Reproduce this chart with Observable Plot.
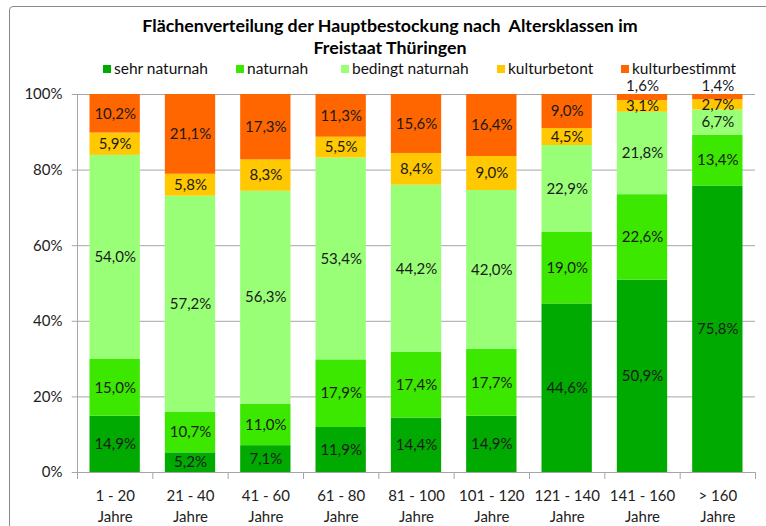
<!DOCTYPE html>
<html><head><meta charset="utf-8">
<script src="https://cdn.jsdelivr.net/npm/d3@7"></script>
<script src="https://cdn.jsdelivr.net/npm/@observablehq/plot@0.6"></script>
<style>
body{margin:0;background:#fff;font-family:Lato,"Open Sans",sans-serif;}
#wrap{position:relative;width:766px;height:526px;overflow:hidden;background:#fff;}
#frame{position:absolute;left:9px;top:6px;width:800px;height:560px;border:1px solid #8a8a8a;border-radius:4px;}
.title{position:absolute;left:0;width:780px;text-align:center;font-weight:bold;font-size:17.8px;line-height:22px;color:#000;white-space:pre;}
#legend{position:absolute;top:61px;left:0;width:766px;height:15px;font-size:15.5px;line-height:15px;color:#111;z-index:2;}
.item{position:absolute;top:0;white-space:nowrap;}
.sw{display:inline-block;width:8px;height:8px;margin-right:3px;vertical-align:1px;}
#chart{position:absolute;left:0;top:66px;}
</style></head>
<body>
<div id="wrap">
  <div id="frame"></div>
  <div class="title" style="top:14px">Flächenverteilung der Hauptbestockung nach  Altersklassen im</div>
  <div class="title" style="top:36px">Freistaat Thüringen</div>
  <div id="legend"></div>
  <div id="chart"></div>
</div>
<script>
const categories = ["1 - 20","21 - 40","41 - 60","61 - 80","81 - 100","101 - 120","121 - 140","141 - 160","> 160"];
const series = ["sehr naturnah","naturnah","bedingt naturnah","kulturbetont","kulturbestimmt"];
const sehrNaturnah    = [14.9, 5.2, 7.1, 11.9, 14.4, 14.9, 44.6, 50.9, 75.8];
const naturnah        = [15.0, 10.7, 11.0, 17.9, 17.4, 17.7, 19.0, 22.6, 13.4];
const bedingtNaturnah = [54.0, 57.2, 56.3, 53.4, 44.2, 42.0, 22.9, 21.8, 6.7];
const kulturbetont    = [5.9, 5.8, 8.3, 5.5, 8.4, 9.0, 4.5, 3.1, 2.7];
const kulturbestimmt  = [10.2, 21.1, 17.3, 11.3, 15.6, 16.4, 9.0, 1.6, 1.4];
const colors = ["#00AA00","#3CE800","#99FF77","#FFC800","#FF6600"];
const yTicks = [0, 20, 40, 60, 80, 100];

const seriesValues = [sehrNaturnah, naturnah, bedingtNaturnah, kulturbetont, kulturbestimmt];
const rows = [];
categories.forEach((c, i) => {
  let acc = 0;
  series.forEach((s, k) => {
    const v = seriesValues[k][i];
    rows.push({i, category: c, series: s, value: v, y1: acc, y2: acc + v});
    acc += v;
  });
});
const fmt = v => v.toFixed(1).replace(".", ",") + "%";

// legend
const legendX = [103, 236, 341, 497, 621];
const legend = document.getElementById("legend");
series.forEach((s, k) => {
  const it = document.createElement("div");
  it.className = "item";
  it.style.left = legendX[k] + "px";
  it.innerHTML = `<span class="sw" style="background:${colors[k]}"></span>${s}`;
  legend.appendChild(it);
});

const chart = Plot.plot({
  width: 766, height: 460,
  marginLeft: 77, marginRight: 11, marginTop: 28, marginBottom: 54,
  x: {domain: [0, categories.length]},
  y: {domain: [0, 100]},
  color: {domain: series, range: colors},
  style: {fontFamily: "Lato, 'Open Sans', sans-serif", fontSize: "15px", color: "#222", background: "transparent"},
  marks: [
    Plot.ruleY(yTicks, {x1: -0.07, x2: categories.length, stroke: "#a6a6a6", strokeOpacity: 1}),
    Plot.rectY(rows, {x1: "i", x2: d => d.i + 1, y1: "y1", y2: "y2", fill: "series", insetLeft: 12.5, insetRight: 12.5}),
    Plot.text(rows.filter(d => d.value >= 2), {x: d => d.i + 0.5, y: d => (d.y1 + d.y2) / 2, text: d => fmt(d.value), fill: "#1a1a1a", fontSize: 15}),
    Plot.text(rows.filter(d => d.value < 2), {x: d => d.i + 0.5, y: 100, dy: -8, text: d => fmt(d.value), fill: "#1a1a1a", fontSize: 15}),
    Plot.ruleX([0], {y1: 0, y2: 100, stroke: "#a6a6a6"}),
    Plot.axisY({ticks: yTicks, tickFormat: d => d + "%", tickSize: 0, tickPadding: 15, fill: "#222", label: null}),
    Plot.axisX({ticks: d3.range(categories.length + 1), tickFormat: () => "", tickSize: 7, stroke: "#a6a6a6", strokeOpacity: 1, label: null}),
    Plot.axisX({ticks: categories.map((c, i) => i + 0.5), tickFormat: d => categories[Math.round(d - 0.5)] + "\nJahre", tickSize: 0, tickPadding: 14, lineHeight: 1.4, fill: "#222", label: null})
  ]
});
document.getElementById("chart").appendChild(chart);
</script>
</body></html>
